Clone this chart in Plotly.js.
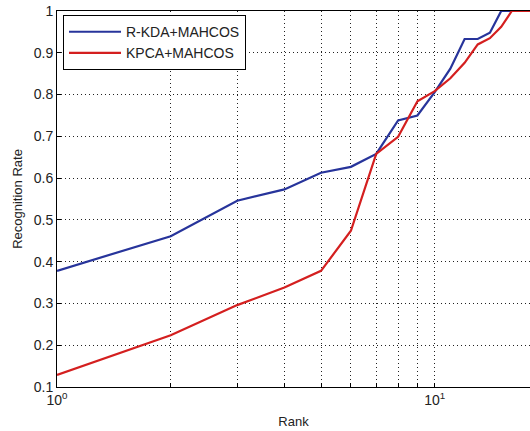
<!DOCTYPE html>
<html>
<head>
<meta charset="utf-8">
<script src="https://cdn.plot.ly/plotly-3.0.1.min.js"></script>
<style>html,body{margin:0;padding:0;background:#fff;}</style>
</head>
<body>
<div id="chart" style="width:530px;height:431px;"></div>
<script>
const rank = [1,2,3,4,5,6,7,8,9,10,11,12,13,14,15,16,17,18,19,20];
const rkda = [0.378,0.461,0.546,0.573,0.613,0.627,0.658,0.738,0.750,0.806,0.862,0.933,0.933,0.948,1.0,1.0,1.0,1.0,1.0,1.0];
const kpca = [0.129,0.224,0.296,0.338,0.378,0.474,0.658,0.699,0.784,0.808,0.839,0.876,0.920,0.935,0.962,1.0,1.0,1.0,1.0,1.0];
const seriesNames = ['R-KDA+MAHCOS','KPCA+MAHCOS'];
const xTickVals = [1,10];
const xTickText = ['10<sup>0</sup>','10<sup>1</sup>'];
const xMinorVals = [2,3,4,5,6,7,8,9,20];
const yTickVals = [0.1,0.2,0.3,0.4,0.5,0.6,0.7,0.8,0.9,1];
const yTickText = ['0.1','0.2','0.3','0.4','0.5','0.6','0.7','0.8','0.9','1'];

const traces = [
  {x: rank, y: rkda, name: seriesNames[0], type:'scatter', mode:'lines',
   line:{color:'#27349b', width:2.2}},
  {x: rank, y: kpca, name: seriesNames[1], type:'scatter', mode:'lines',
   line:{color:'#d41f1f', width:2.2}}
];
const gridDash = '1px,3px';
const layout = {
  width:530, height:431,
  margin:{l:57, r:0, t:11, b:44},
  paper_bgcolor:'#fff', plot_bgcolor:'#fff',
  font:{family:'Liberation Sans, Arial, sans-serif', size:14, color:'#222'},
  showlegend:true,
  legend:{x:0.0127, y:0.989, xanchor:'left', yanchor:'top',
    bordercolor:'#000', borderwidth:1, bgcolor:'#fff',
    font:{size:14, color:'#222'}, tracegroupgap:0, itemwidth:52},
  xaxis:{type:'log', range:[0, 1.2523], tickvals:xTickVals, ticktext:xTickText,
    showline:true, linecolor:'#000', linewidth:1, mirror:true,
    showgrid:true, gridcolor:'#222', griddash:gridDash, gridwidth:1,
    ticks:'inside', ticklen:4, tickcolor:'#000', zeroline:false,
    tickfont:{size:14},
    minor:{tickvals:xMinorVals, showgrid:true, gridcolor:'#222', griddash:gridDash,
      gridwidth:1, ticks:'inside', ticklen:4, tickcolor:'#000'},
    title:{text:'Rank', font:{size:13}, standoff:10}},
  yaxis:{range:[0.1, 1], tickvals:yTickVals, ticktext:yTickText,
    showline:true, linecolor:'#000', linewidth:1, mirror:false,
    showgrid:true, gridcolor:'#222', griddash:gridDash, gridwidth:1,
    ticks:'inside', ticklen:4, tickcolor:'#000', zeroline:false,
    tickfont:{size:14},
    title:{text:'Recognition Rate', font:{size:13}, standoff:8}}
};
Plotly.newPlot('chart', traces, layout, {displayModeBar:false, staticPlot:true});
</script>
</body>
</html>
